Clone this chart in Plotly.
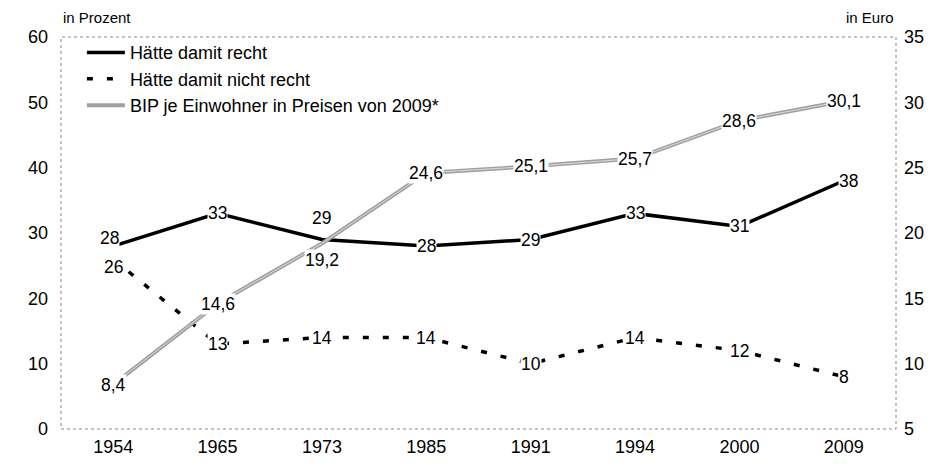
import plotly.graph_objects as go

years = ["1954", "1965", "1973", "1985", "1991", "1994", "2000", "2009"]
recht = [28, 33, 29, 28, 29, 33, 31, 38]
nicht_recht = [26, 13, 14, 14, 10, 14, 12, 8]
bip = [8.4, 14.6, 19.2, 24.6, 25.1, 25.7, 28.6, 30.1]

left_ticks = [0, 10, 20, 30, 40, 50, 60]
right_ticks = [5, 10, 15, 20, 25, 30, 35]

name_recht = "Hätte damit recht"
name_nicht = "Hätte damit nicht recht"
name_bip = "BIP je Einwohner in Preisen von 2009*"

FONT = "Liberation Sans, Arial, sans-serif"
FS_TICK = 18
FS_LAB = 17.5
FS_LEG = 18

fig = go.Figure()
fig.add_trace(go.Scatter(x=years, y=bip, name=name_bip, yaxis="y2", mode="lines",
                         line=dict(color="#a0a0a0", width=4)))
fig.add_trace(go.Scatter(x=years, y=bip, showlegend=False, yaxis="y2", mode="lines",
                         line=dict(color="#dcdcdc", width=1), hoverinfo="skip"))
fig.add_trace(go.Scatter(x=years, y=recht, name=name_recht, mode="lines",
                         line=dict(color="black", width=3.5)))
fig.add_trace(go.Scatter(x=years, y=nicht_recht, name=name_nicht, mode="lines",
                         line=dict(color="black", width=3.5, dash="6px,14px")))

# label offsets (style only): (xshift, yshift)
off_recht = {0: (-4, 8), 2: (0, 22), 7: (5, 0)}
off_nicht = {0: (0, -8)}
off_bip = {2: (0, -17)}

ann = []
def add_labels(vals, yref, offs, fmt):
    for i, v in enumerate(vals):
        dx, dy = offs.get(i, (0, 0))
        ann.append(dict(x=i, y=v, xref="x", yref=yref, text=fmt(v), showarrow=False,
                        bgcolor="white", borderpad=0, xshift=dx, yshift=dy,
                        font=dict(family=FONT, size=FS_LAB, color="black")))

add_labels(bip, "y2", off_bip, lambda v: f"{v:.1f}".replace(".", ","))
add_labels(recht, "y", off_recht, lambda v: str(v))
add_labels(nicht_recht, "y", off_nicht, lambda v: str(v))

ann.append(dict(x=0, y=1, xref="paper", yref="paper", xanchor="left", yanchor="bottom",
                yshift=9, text="in Prozent", showarrow=False,
                font=dict(family=FONT, size=15, color="black")))
ann.append(dict(x=1, y=1, xref="paper", yref="paper", xanchor="right", yanchor="bottom",
                yshift=9, text="in Euro", showarrow=False,
                font=dict(family=FONT, size=15, color="black")))

fig.update_layout(
    width=935, height=469,
    margin=dict(l=61, r=39, t=37, b=40),
    paper_bgcolor="white", plot_bgcolor="white",
    font=dict(family=FONT, size=FS_TICK, color="black"),
    showlegend=True,
    legend=dict(x=0.025, y=1.007, xanchor="left", yanchor="top", bgcolor="rgba(0,0,0,0)",
                traceorder="normal", font=dict(family=FONT, size=FS_LEG), itemwidth=38,
                tracegroupgap=0),
    xaxis=dict(type="category", categoryorder="array", categoryarray=years,
               range=[-0.5, len(years) - 0.5], showgrid=False, zeroline=False,
               showline=False, ticks="", ticklabelstandoff=5,
               tickfont=dict(family=FONT, size=FS_TICK)),
    yaxis=dict(range=[0, 60], tickvals=left_ticks, showgrid=False, zeroline=False,
               showline=False, ticks="", ticklabelstandoff=12,
               tickfont=dict(family=FONT, size=FS_TICK)),
    yaxis2=dict(range=[5, 35], tickvals=right_ticks, overlaying="y", side="right",
                showgrid=False, zeroline=False, showline=False, ticks="",
                ticklabelstandoff=7, tickfont=dict(family=FONT, size=FS_TICK)),
    annotations=ann,
    shapes=[dict(type="rect", xref="paper", yref="paper", x0=0, y0=0, x1=1, y1=1,
                 line=dict(color="#888888", width=1, dash="dot"), layer="below")],
)

fig.data[2].legendrank = 1
fig.data[3].legendrank = 2
fig.data[0].legendrank = 3

fig.write_html("out.html", config={"displayModeBar": False},
               post_script="document.body.style.margin='0';document.body.style.overflow='hidden';")
